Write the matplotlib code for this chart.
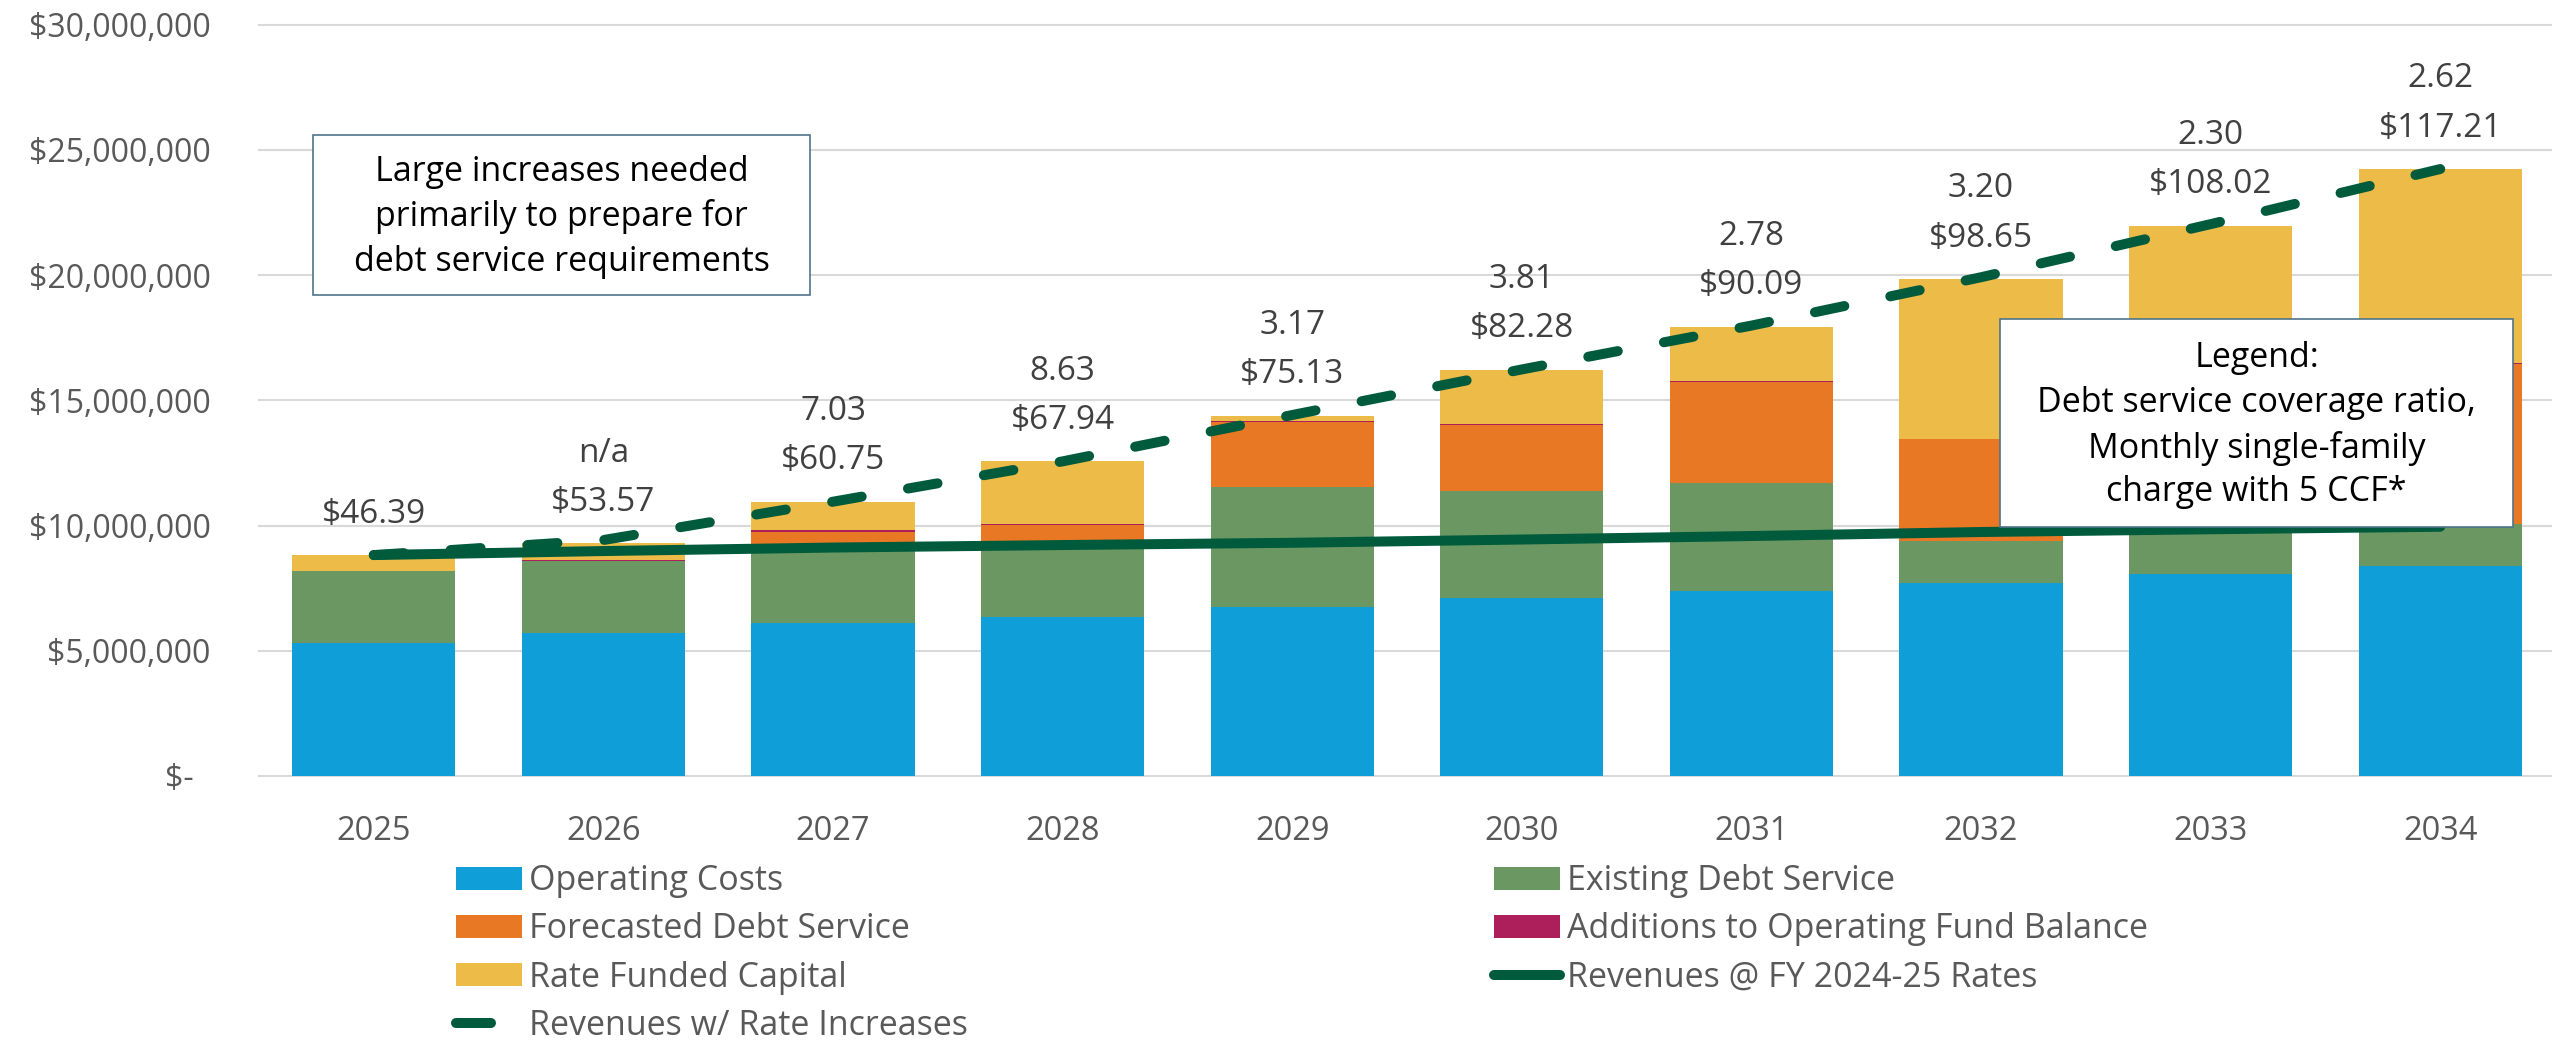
import matplotlib
matplotlib.use("Agg")
import matplotlib.pyplot as plt
from matplotlib.lines import Line2D
from matplotlib.patches import Patch, Rectangle
from matplotlib.ticker import FuncFormatter, MultipleLocator

plt.rcParams["font.family"] = ["Open Sans", "DejaVu Sans"]

# values in $ millions
years = ["2025", "2026", "2027", "2028", "2029", "2030", "2031", "2032", "2033", "2034"]
operating_costs = [5.32, 5.70, 6.09, 6.36, 6.75, 7.09, 7.40, 7.72, 8.06, 8.38]
existing_debt = [2.85, 2.88, 3.00, 2.94, 4.77, 4.30, 4.28, 1.66, 1.70, 1.68]
forecasted_debt = [0.00, 0.00, 0.66, 0.72, 2.62, 2.62, 4.05, 4.06, 5.30, 6.38]
additions_fund = [0.00, 0.05, 0.06, 0.05, 0.04, 0.04, 0.04, 0.03, 0.04, 0.04]
rate_funded_capital = [0.65, 0.66, 1.14, 2.49, 0.20, 2.17, 2.17, 6.37, 6.87, 7.75]
rev_current_rates = [8.82, 8.98, 9.12, 9.22, 9.31, 9.44, 9.58, 9.74, 9.85, 9.95]
rev_with_increases = [8.82, 9.42, 10.95, 12.56, 14.41, 16.23, 17.98, 19.91, 22.03, 24.23]
coverage_ratio = ["", "n/a", "7.03", "8.63", "3.17", "3.81", "2.78", "3.20", "2.30", "2.62"]
monthly_charge = ["$46.39", "$53.57", "$60.75", "$67.94", "$75.13",
                  "$82.28", "$90.09", "$98.65", "$108.02", "$117.21"]

W, H = 2552, 1040
GREEN_LINE = "#005a3c"
TICK_GRAY = "#595959"

fig = plt.figure(figsize=(W / 100, H / 100), dpi=100)
ax = fig.add_axes([259 / W, 1 - 776 / H, (2555 - 259) / W, (776 - 24.5) / H])

stacks = [
    ("Operating Costs", operating_costs, "#0f9ed8"),
    ("Existing Debt Service", existing_debt, "#6b9862"),
    ("Forecasted Debt Service", forecasted_debt, "#e97825"),
    ("Additions to Operating Fund Balance", additions_fund, "#ad1f5a"),
    ("Rate Funded Capital", rate_funded_capital, "#ecbb48"),
]

x = list(range(len(years)))
bottom = [0.0] * len(years)
patches = {}
for label, vals, color in stacks:
    vals_d = [v * 1e6 for v in vals]
    ax.bar(x, vals_d, width=0.71, bottom=bottom, color=color, zorder=2)
    bottom = [b + v for b, v in zip(bottom, vals_d)]
    patches[label] = Patch(facecolor=color)
totals = bottom

ax.plot(x, [v * 1e6 for v in rev_current_rates], color=GREEN_LINE, lw=7.2,
        solid_capstyle="round", zorder=3)
ax.plot(x, [v * 1e6 for v in rev_with_increases], color=GREEN_LINE, lw=7.2,
        linestyle=(0, (3, 4.7)), dash_capstyle="round", zorder=4)

# coverage ratio / monthly charge above each bar
for i, tot in enumerate(totals):
    ax.annotate(monthly_charge[i], (i, tot), xytext=(0, 29.5), textcoords="offset points",
                ha="center", va="center", fontsize=24, color="#404040", zorder=5)
    if coverage_ratio[i]:
        ax.annotate(coverage_ratio[i], (i, tot), xytext=(0, 65), textcoords="offset points",
                    ha="center", va="center", fontsize=24, color="#404040", zorder=5)

ax.set_xlim(-0.5, len(years) - 0.5)
ax.set_ylim(0, 30e6)
ax.set_xticks(x)
ax.set_xticklabels(years)
ax.yaxis.set_major_locator(MultipleLocator(5e6))
ax.yaxis.set_major_formatter(FuncFormatter(lambda v, _: "$-  " if v == 0 else f"${v:,.0f}"))
ax.tick_params(axis="y", length=0, pad=35, labelsize=23, labelcolor=TICK_GRAY)
ax.tick_params(axis="x", length=0, pad=28, labelsize=23.5, labelcolor=TICK_GRAY)
ax.grid(axis="y", color="#d9d9d9", lw=1.5, zorder=0)
ax.set_axisbelow(True)
for gl in ax.get_ygridlines():
    gl.set_clip_on(False)
for s in ax.spines.values():
    s.set_visible(False)


def add_box(x0, y0, x1, y1, lines, line_ys):
    # pixel coords, measured from the top left of the picture
    fig.add_artist(Rectangle((x0 / W, 1 - y1 / H), (x1 - x0) / W, (y1 - y0) / H,
                             transform=fig.transFigure, facecolor="white",
                             edgecolor="#4f7489", lw=1.2, zorder=10))
    for txt, ly in zip(lines, line_ys):
        fig.text((x0 + x1) / 2 / W, 1 - ly / H, txt, ha="center", va="center",
                 fontsize=24.5, color="black", zorder=11)


add_box(313, 135, 810, 295,
        ["Large increases needed", "primarily to prepare for", "debt service requirements"],
        [172, 217, 262])
add_box(2000, 319, 2513, 527,
        ["Legend:", "Debt service coverage ratio,", "Monthly single-family", "charge with 5 CCF*"],
        [358, 403, 448, 492])

solid_handle = Line2D([], [], color=GREEN_LINE, lw=7.2, solid_capstyle="round")
dashed_handle = Line2D([], [], color=GREEN_LINE, lw=7.2, linestyle=(0, (3.5, 12)),
                       dash_capstyle="round")

leg_kw = dict(loc="upper left", frameon=False, fontsize=24.5, handlelength=1.94,
              handleheight=0.66, handletextpad=0.2, labelspacing=0.42, borderpad=0,
              borderaxespad=0, labelcolor=TICK_GRAY)
fig.legend([patches["Operating Costs"], patches["Forecasted Debt Service"],
            patches["Rate Funded Capital"], dashed_handle],
           ["Operating Costs", "Forecasted Debt Service", "Rate Funded Capital",
            "Revenues w/ Rate Increases"],
           bbox_to_anchor=(456 / W, 1 - 864 / H), **leg_kw)
fig.legend([patches["Existing Debt Service"], patches["Additions to Operating Fund Balance"],
            solid_handle],
           ["Existing Debt Service", "Additions to Operating Fund Balance",
            "Revenues @ FY 2024-25 Rates"],
           bbox_to_anchor=(1494 / W, 1 - 864 / H), **leg_kw)

fig.savefig("out.png", dpi=100)
